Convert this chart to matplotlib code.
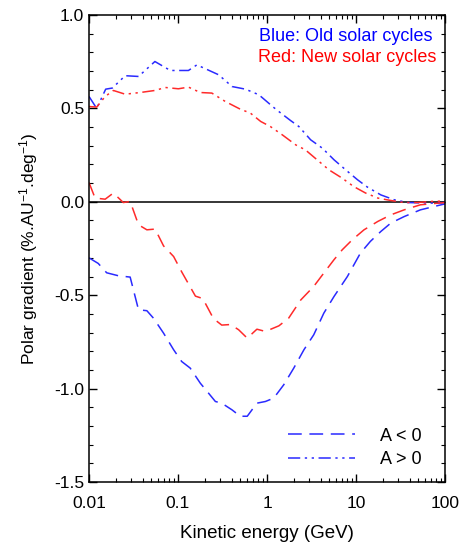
import matplotlib.pyplot as plt
import numpy as np
from matplotlib.ticker import MultipleLocator, FixedLocator

plt.rcParams['font.family'] = ['Liberation Sans', 'DejaVu Sans']
plt.rcParams['mathtext.fontset'] = 'custom'
plt.rcParams['mathtext.rm'] = 'Liberation Sans'
plt.rcParams['mathtext.it'] = 'Liberation Sans'

# A < 0, old solar cycles (blue dashed)
e_old_neg = [0.01, 0.0127, 0.0158, 0.0214, 0.029, 0.036, 0.0447, 0.053, 0.0688, 0.0893,
             0.11, 0.137, 0.178, 0.22, 0.263, 0.31, 0.405, 0.5, 0.6, 0.77, 0.96, 1.19,
             1.54, 2.0, 2.6, 3.35, 4.35, 5.66, 8.0, 11.2, 14.5, 19.0, 24.6, 34.8, 53, 100]
g_old_neg = [-0.30, -0.33, -0.38, -0.396, -0.403, -0.578, -0.583, -0.623, -0.703, -0.792,
             -0.855, -0.89, -0.971, -1.024, -1.069, -1.078, -1.114, -1.148, -1.148, -1.078,
             -1.069, -1.051, -0.98, -0.89, -0.792, -0.712, -0.596, -0.507, -0.40, -0.275,
             -0.212, -0.159, -0.114, -0.079, -0.043, -0.011]

# A > 0, old solar cycles (blue dash-dot-dot)
e_old_pos = [0.01, 0.0122, 0.0154, 0.0183, 0.0255, 0.036, 0.055, 0.082, 0.131, 0.163,
             0.286, 0.405, 0.573, 0.81, 1.19, 1.36, 1.84, 2.28, 3.09, 4.19, 5.66, 7.66,
             10.4, 13.4, 19.0, 26.8, 38, 69, 100]
g_old_pos = [0.564, 0.50, 0.603, 0.609, 0.675, 0.671, 0.751, 0.703, 0.703, 0.733,
             0.68, 0.617, 0.603, 0.573, 0.505, 0.483, 0.435, 0.403, 0.332, 0.287, 0.225, 0.171,
             0.118, 0.079, 0.037, 0.011, -0.004, -0.007, -0.004]

# A < 0, new solar cycles (red dashed)
e_new_neg = [0.01, 0.0117, 0.0152, 0.0188, 0.0243, 0.029, 0.036, 0.0447, 0.0553, 0.0688,
             0.0893, 0.11, 0.157, 0.19, 0.25, 0.31, 0.39, 0.48, 0.6, 0.77, 0.96, 1.36,
             1.75, 2.4, 3.35, 4.2, 5.66, 7.0, 9.1, 12.3, 17.6, 24.6, 34.8, 53, 100]
g_new_neg = [0.103, 0.02, 0.014, 0.047, -0.004, 0.002, -0.123, -0.15, -0.146, -0.236,
             -0.293, -0.375, -0.505, -0.518, -0.625, -0.66, -0.657, -0.685, -0.73, -0.682,
             -0.694, -0.664, -0.623, -0.525, -0.453, -0.391, -0.31, -0.257, -0.203, -0.15,
             -0.105, -0.07, -0.043, -0.016, -0.004]

# A > 0, new solar cycles (red dash-dot-dot)
e_new_pos = [0.01, 0.0122, 0.0152, 0.0188, 0.0255, 0.0375, 0.055, 0.072, 0.101, 0.131,
             0.178, 0.24, 0.34, 0.5, 0.65, 0.85, 1.09, 1.48, 2.1, 2.7, 3.65, 4.97, 6.97,
             9.4, 12.8, 17.6, 24.6, 34.8, 49, 69, 100]
g_new_pos = [0.51, 0.507, 0.564, 0.596, 0.576, 0.585, 0.596, 0.612, 0.605, 0.614,
             0.585, 0.582, 0.537, 0.496, 0.475, 0.43, 0.403, 0.359, 0.305, 0.278, 0.225,
             0.171, 0.127, 0.082, 0.047, 0.02, 0.007, -0.004, -0.004, 0.002, 0.004]

blue = '#2a2aff'
red = '#ff2a2a'
dash = (0, (9, 5))
dashdot = (0, (8, 3, 1.5, 3, 1.5, 3))

fig = plt.figure(figsize=(4.67, 5.48), dpi=100)
ax = fig.add_axes([89 / 467, 1 - 482 / 548, 356 / 467, 467 / 548])

ax.axhline(0, color='black', lw=1.1)
l1, = ax.plot(e_old_neg, g_old_neg, color=blue, ls=dash, lw=1.1)
l2, = ax.plot(e_old_pos, g_old_pos, color=blue, ls=dashdot, lw=1.1)
ax.plot(e_new_neg, g_new_neg, color=red, ls=dash, lw=1.1)
ax.plot(e_new_pos, g_new_pos, color=red, ls=dashdot, lw=1.1)

ax.set_xscale('log')
ax.set_xlim(0.01, 100)
ax.set_ylim(-1.5, 1.0)
ax.set_xticks([0.01, 0.1, 1, 10, 100])
ax.set_xticklabels(['0.01', '0.1', '1', '10', '100'])
ax.yaxis.set_major_locator(MultipleLocator(0.5))
ax.yaxis.set_minor_locator(MultipleLocator(0.1))
ax.yaxis.set_major_formatter(plt.FormatStrFormatter('%.1f'))
ax.tick_params(which='both', direction='in', top=True, right=True, labelsize=12.5)
ax.tick_params(which='major', length=6, width=1)
ax.tick_params(which='minor', length=3, width=0.8)
ax.tick_params(axis='x', pad=10)
for s in ax.spines.values():
    s.set_linewidth(1.1)

ax.set_xlabel('Kinetic energy (GeV)', fontsize=13.5, labelpad=10)
ax.set_ylabel('Polar gradient (%.AU$^{-1}$.deg$^{-1}$)', fontsize=12.5, labelpad=10)

ax.text(0.965, 0.955, 'Blue: Old solar cycles', color='blue', fontsize=13,
        ha='right', va='center', transform=ax.transAxes)
ax.text(0.975, 0.91, 'Red: New solar cycles', color='red', fontsize=13,
        ha='right', va='center', transform=ax.transAxes)

ax.legend([l1, l2], ['A < 0', 'A > 0'], loc='lower right', frameon=False,
          fontsize=13, handlelength=3.7, handletextpad=1.4, labelspacing=0.35,
          bbox_to_anchor=(0.98, -0.005))

fig.savefig('out.png', dpi=100)
